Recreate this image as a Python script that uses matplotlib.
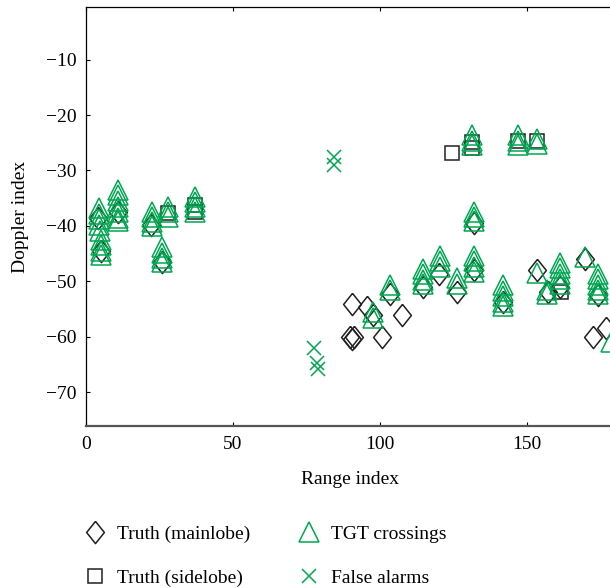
import matplotlib
matplotlib.use("Agg")
import matplotlib.pyplot as plt

plt.rcParams['font.family'] = ['Liberation Serif', 'DejaVu Serif']
plt.rcParams['font.size'] = 14

GREEN = '#00a650'
BLACK = '#231f20'

# Truth (mainlobe) detections
main_rng = [4.2, 5.0, 10.8, 22.0, 25.8, 90.6, 95.7, 97.5, 107.4, 89.7, 90.4, 91.2,
            100.6, 103.6, 114.5, 120.0, 126.3, 132.0, 132.0, 142.0, 153.3, 157.3,
            161.2, 169.7, 174.3, 172.6, 177.1]
main_dop = [-38.5, -44.5, -37.5, -39.8, -46.5, -54.0, -54.7, -56.0, -56.0, -60.0, -60.4, -60.0,
            -60.0, -52.2, -51.0, -48.6, -51.9, -48.0, -39.5, -53.7, -48.0, -52.0,
            -51.0, -46.0, -52.5, -60.0, -58.5]

# Truth (sidelobe)
side_rng = [27.8, 37.0, 37.0, 124.4, 131.5, 131.5, 147.0, 153.3, 161.5]
side_dop = [-37.7, -36.2, -37.5, -26.9, -24.8, -26.0, -24.6, -24.6, -52.0]

# TGT crossings
tgt_rng = [4.3, 4.3, 4.3, 4.3, 4.6, 5.0, 5.0, 5.0, 5.0,
           10.8, 10.8, 10.8, 10.8, 10.8, 10.8, 10.8,
           22.3, 22.3, 22.3, 22.3,
           25.8, 25.8, 25.8, 25.8,
           27.9, 27.9, 27.9,
           37.0, 37.0, 37.0, 37.0,
           97.5, 97.5,
           103.6, 103.6,
           114.5, 114.5, 114.5, 114.5,
           120.4, 120.4, 120.4,
           126.3, 126.3,
           132.0, 132.0, 132.0, 132.0,
           132.0, 132.0, 132.0,
           131.2, 131.2, 131.2,
           147.0, 147.0, 147.0,
           153.3, 153.3,
           142.0, 142.0, 142.0, 142.0, 142.0,
           153.3,
           156.9, 156.9,
           161.2, 161.2, 161.2, 161.2, 161.2,
           169.7,
           174.3, 174.3, 174.3, 174.3, 174.3,
           178.5]
tgt_dop = [-36.8, -37.8, -38.8, -39.8, -41.0, -42.5, -43.5, -44.5, -45.3,
           -33.5, -34.5, -35.5, -36.5, -37.5, -38.5, -39.2,
           -37.4, -38.4, -39.3, -40.1,
           -43.8, -44.8, -45.8, -46.5,
           -36.5, -37.5, -38.3,
           -34.7, -35.7, -36.6, -37.4,
           -55.6, -56.6,
           -50.7, -51.6,
           -47.7, -48.7, -49.7, -50.4,
           -45.4, -46.4, -47.4,
           -49.4, -50.4,
           -45.4, -46.4, -47.4, -48.3,
           -37.4, -38.4, -39.2,
           -23.6, -24.6, -25.4,
           -23.6, -24.6, -25.4,
           -24.3, -25.3,
           -50.7, -51.7, -52.7, -53.7, -54.5,
           -48.5,
           -51.5, -52.3,
           -46.6, -47.6, -48.6, -49.6, -50.4,
           -45.6,
           -48.6, -49.6, -50.6, -51.6, -52.2,
           -61.0]

# False alarms
fa_rng = [84.5, 84.5, 77.7, 78.7, 78.9]
fa_dop = [-27.5, -29.0, -62.0, -64.8, -65.9]

diamond = [(0, 1), (0.8, 0), (0, -1), (-0.8, 0), (0, 1)]

fig = plt.figure(figsize=(6.10, 5.88), dpi=100)
ax = fig.add_axes([86 / 610, 1 - 426 / 588, (615 - 86) / 610, (426 - 7) / 588])

ax.plot(main_rng, main_dop, linestyle='none', marker=diamond, ms=16, mfc='none',
        mec=BLACK, mew=1.1, label='Truth (mainlobe)')
ax.plot(side_rng, side_dop, linestyle='none', marker='s', ms=10, mfc='none',
        mec=BLACK, mew=1.1, label='Truth (sidelobe)')
ax.plot(tgt_rng, tgt_dop, linestyle='none', marker='^', ms=15, mfc='none',
        mec=GREEN, mew=1.1, label='TGT crossings')
ax.plot(fa_rng, fa_dop, linestyle='none', marker='x', ms=10, mec=GREEN,
        mew=1.1, label='False alarms')

ax.set_xlim(0, 180)
ax.set_ylim(-76.1, -0.5)
ax.set_xticks([0, 50, 100, 150])
ax.set_yticks([-70, -60, -50, -40, -30, -20, -10])
ax.tick_params(direction='in', length=3, width=0.8, top=True, right=True,
               labelsize=14, pad=7)
for s in ['left', 'top', 'right']:
    ax.spines[s].set_linewidth(0.9)
    ax.spines[s].set_color('black')
ax.spines['bottom'].set_linewidth(1.6)
ax.spines['bottom'].set_color('#555555')

ax.set_xlabel('Range index', fontsize=14, labelpad=13)
ax.set_ylabel('Doppler index', fontsize=14, labelpad=12)

handles, labels = ax.get_legend_handles_labels()
fig.legend(handles, labels, ncol=2, loc='upper left',
           bbox_to_anchor=(66 / 610, 1 - 508 / 588), frameon=False,
           handlelength=1.2, handletextpad=0.53, columnspacing=2.4,
           labelspacing=1.35, fontsize=14)

fig.savefig('out.png', dpi=100)
